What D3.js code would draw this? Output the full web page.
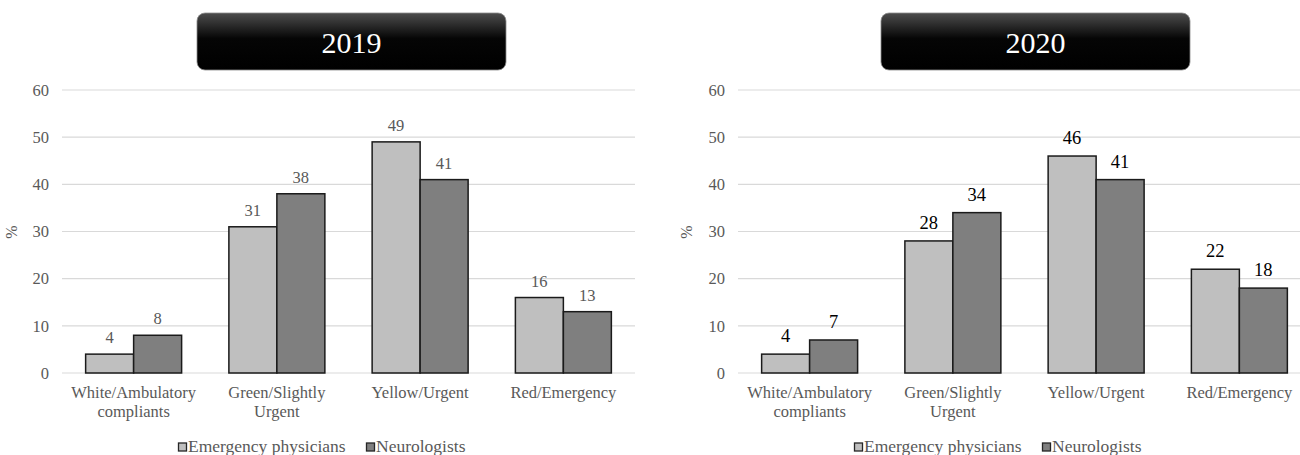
<!DOCTYPE html>
<html>
<head>
<meta charset="utf-8">
<script src="https://cdn.jsdelivr.net/npm/d3@7"></script>
<style>
  html, body { margin: 0; padding: 0; background: #fff; }
  svg { display: block; font-family: "Liberation Serif", "Times New Roman", serif; }
</style>
</head>
<body>
<svg id="chart" width="1300" height="455"></svg>
<script>
// Triage category shares (%) reported by each group of respondents
const categories = ["White/Ambulatory compliants", "Green/Slightly Urgent", "Yellow/Urgent", "Red/Emergency"];
const categoryLines = [["White/Ambulatory", "compliants"], ["Green/Slightly", "Urgent"], ["Yellow/Urgent"], ["Red/Emergency"]];
const seriesNames = ["Emergency physicians", "Neurologists"];
const seriesColors = ["#bfbfbf", "#7f7f7f"];
const years = ["2019", "2020"];
const emergency2019 = [4, 31, 49, 16];
const neurologists2019 = [8, 38, 41, 13];
const emergency2020 = [4, 28, 46, 22];
const neurologists2020 = [7, 34, 41, 18];
const yTicks = [0, 10, 20, 30, 40, 50, 60];

const FONT = "'Liberation Serif', 'Times New Roman', serif";

const panels = [
  { year: years[0], values: [emergency2019, neurologists2019], x0: 62, x1: 635, boxX: 197, axisTitleX: 17, labelColor: "#595959", labelSize: 16.5, labelGap: 11 },
  { year: years[1], values: [emergency2020, neurologists2020], x0: 738, x1: 1311, boxX: 881, axisTitleX: 692, labelColor: "#000000", labelSize: 18.5, labelGap: 12 }
];

const svg = d3.select("#chart");
const defs = svg.append("defs");
const grad = defs.append("linearGradient").attr("id", "titleFill")
  .attr("x1", 0).attr("y1", 0).attr("x2", 0).attr("y2", 1);
grad.append("stop").attr("offset", "0%").attr("stop-color", "#4d4d4d");
grad.append("stop").attr("offset", "45%").attr("stop-color", "#050505");
grad.append("stop").attr("offset", "100%").attr("stop-color", "#000000");

const y = d3.scaleLinear().domain([0, 60]).range([373, 90]);
const grey = "#595959";

panels.forEach(p => {
  const g = svg.append("g").attr("font-family", FONT);

  // Title badge
  g.append("rect")
    .attr("x", p.boxX).attr("y", 13).attr("width", 309).attr("height", 57)
    .attr("rx", 8).attr("ry", 8)
    .attr("fill", "url(#titleFill)").attr("stroke", "#8c8c8c").attr("stroke-width", 0.8);
  g.append("text")
    .attr("x", p.boxX + 154.5).attr("y", 53)
    .attr("text-anchor", "middle").attr("fill", "#ffffff")
    .attr("font-size", 30).text(p.year);

  const x = d3.scaleBand().domain(categories).range([p.x0, p.x1])
    .paddingInner(0.33).paddingOuter(0.165);
  const xs = d3.scaleBand().domain(seriesNames).range([0, x.bandwidth()]);

  // Horizontal gridlines
  g.append("g").selectAll("line").data(yTicks).join("line")
    .attr("x1", p.x0).attr("x2", p.x1)
    .attr("y1", d => y(d)).attr("y2", d => y(d))
    .attr("stroke", "#d9d9d9").attr("stroke-width", 1.2);

  // Y axis tick labels
  const yAxis = d3.axisLeft(y).tickValues(yTicks).tickSize(0).tickPadding(13);
  const ya = g.append("g").attr("transform", `translate(${p.x0},0)`).call(yAxis)
    .attr("font-family", FONT);
  ya.select(".domain").remove();
  ya.selectAll("text").attr("fill", grey).attr("font-size", 16.5);

  // Axis title
  g.append("text")
    .attr("transform", `translate(${p.axisTitleX},232) rotate(-90)`)
    .attr("text-anchor", "middle").attr("fill", grey).attr("font-size", 16).text("%");

  // Bars
  const groups = g.append("g").selectAll("g").data(categories).join("g")
    .attr("transform", d => `translate(${x(d)},0)`);
  groups.selectAll("rect")
    .data((d, i) => seriesNames.map((s, k) => ({ s, k, v: p.values[k][i] })))
    .join("rect")
    .attr("x", d => xs(d.s)).attr("width", xs.bandwidth())
    .attr("y", d => y(d.v)).attr("height", d => y(0) - y(d.v))
    .attr("fill", d => seriesColors[d.k])
    .attr("stroke", "#1a1a1a").attr("stroke-width", 1.5);
  groups.selectAll("text.val")
    .data((d, i) => seriesNames.map((s, k) => ({ s, k, v: p.values[k][i] })))
    .join("text").attr("class", "val")
    .attr("x", d => xs(d.s) + xs.bandwidth() / 2)
    .attr("y", d => y(d.v) - p.labelGap)
    .attr("text-anchor", "middle").attr("fill", p.labelColor)
    .attr("font-size", p.labelSize).text(d => d.v);

  // Category labels
  categories.forEach((c, i) => {
    const t = g.append("text")
      .attr("x", x(c) + x.bandwidth() / 2).attr("y", 398)
      .attr("text-anchor", "middle").attr("fill", grey).attr("font-size", 16.5);
    categoryLines[i].forEach((line, j) => {
      t.append("tspan").attr("x", x(c) + x.bandwidth() / 2)
        .attr("dy", j === 0 ? 0 : 19).text(line);
    });
  });

  // Legend
  const legendX = (p.x0 + p.x1) / 2 - 170;
  const lg = g.append("g").attr("transform", `translate(${legendX},0)`);
  const offsets = [0, 188];
  seriesNames.forEach((s, k) => {
    lg.append("rect")
      .attr("x", offsets[k]).attr("y", 443).attr("width", 8).attr("height", 8)
      .attr("fill", seriesColors[k]).attr("stroke", "#262626").attr("stroke-width", 1.3);
    lg.append("text")
      .attr("x", offsets[k] + 9.5).attr("y", 451.5)
      .attr("fill", grey).attr("font-size", 17.5).text(s);
  });
});
</script>
</body>
</html>
